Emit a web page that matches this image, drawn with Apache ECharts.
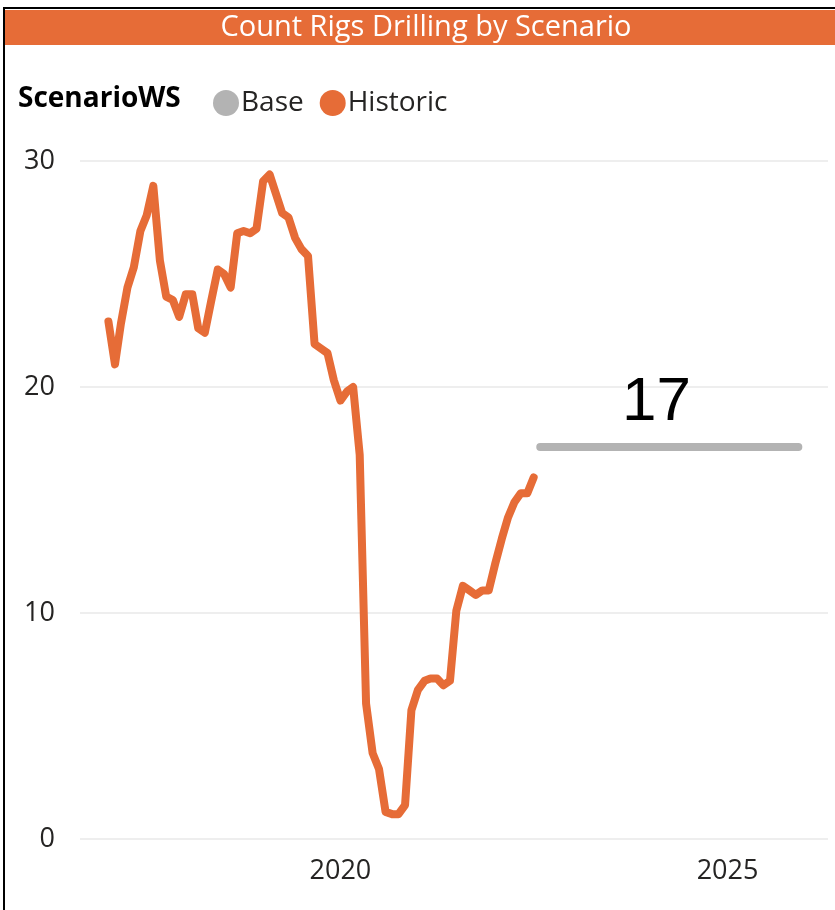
<!DOCTYPE html>
<html>
<head>
<meta charset="utf-8">
<script src="https://cdn.jsdelivr.net/npm/echarts@6/dist/echarts.min.js"></script>
<style>
html,body{margin:0;padding:0;background:#fff;}
#c{width:835px;height:910px;}
</style>
</head>
<body>
<div id="c"></div>
<script>
// Historic monthly rig counts, 2017-01 .. 2022-07
const historicStart = [2017, 1];
const historicValues = [
  22.9, 21.0, 22.8, 24.4, 25.3, 26.9, 27.6, 28.9, 25.6, 24.0, 23.85, 23.1,
  24.1, 24.1, 22.6, 22.4, 23.8, 25.2, 25.0, 24.4, 26.8, 26.9, 26.8, 27.0,
  29.1, 29.4, 28.6, 27.7, 27.5, 26.6, 26.1, 25.8, 21.9, 21.7, 21.5, 20.3,
  19.4, 19.8, 20.0, 17.0, 6.0, 3.8, 3.1, 1.2, 1.1, 1.1, 1.5, 5.7,
  6.6, 7.0, 7.1, 7.1, 6.8, 7.0, 10.1, 11.2, 11.0, 10.8, 11.0, 11.0,
  12.2, 13.3, 14.2, 14.9, 15.3, 15.3, 16.0
];
// Base scenario, 2022-08 .. 2025-12
const baseStart = [2022, 8];
const baseMonths = 41;
const baseValue = 17.35;
const baseLabelMonth = '2024-02';
const baseLabelText = '17';
const yTicks = [0, 10, 20, 30];
const xTickYears = [2020, 2025];

function monthSeq(start, n) {
  const out = [];
  let y = start[0], m = start[1];
  for (let i = 0; i < n; i++) {
    out.push(y + '-' + String(m).padStart(2, '0'));
    m++; if (m > 12) { m = 1; y++; }
  }
  return out;
}
function ts(s) { const p = s.split('-'); return Date.UTC(+p[0], +p[1] - 1, 1); }
const historicDates = monthSeq(historicStart, historicValues.length);
const baseDates = monthSeq(baseStart, baseMonths);
const baseValues = baseDates.map(() => baseValue);

const ORANGE = '#E66C37';
const GRAY = '#B3B3B3';
const FONT = '"Open Sans", "Noto Sans", sans-serif';

const chart = echarts.init(document.getElementById('c'));
chart.setOption({
  animation: false,
  graphic: [
    { type: 'rect', shape: { x: 4, y: 8, width: 840, height: 910 }, style: { fill: 'none', stroke: '#000', lineWidth: 2 }, silent: true, z: 100 },
    { type: 'rect', shape: { x: 5, y: 10, width: 830, height: 35 }, style: { fill: ORANGE }, z: 1 },
    { type: 'text', x: 426, y: 28, style: { text: 'Count Rigs Drilling by Scenario', fill: '#fff', font: '29px ' + FONT, textAlign: 'center', textVerticalAlign: 'middle' }, z: 2 },
    { type: 'text', x: 18, y: 99, style: { text: 'ScenarioWS', fill: '#000', font: 'bold 28px ' + FONT, textAlign: 'left', textVerticalAlign: 'middle' }, z: 2 }
  ],
  legend: {
    left: 208, top: 84,
    icon: 'circle', itemWidth: 26, itemHeight: 26, itemGap: 16,
    textStyle: { fontSize: 28, color: '#252423', fontFamily: FONT, padding: [0, 0, 0, -3] },
    data: ['Base', 'Historic']
  },
  grid: { left: 80, right: 7, top: 161, bottom: 71, containLabel: false },
  xAxis: {
    type: 'value',
    min: Date.UTC(2016, 7, 20),
    max: Date.UTC(2026, 3, 20),
    axisLine: { show: false },
    axisTick: { show: false },
    splitLine: { show: false },
    axisLabel: {
      customValues: xTickYears.map(y => Date.UTC(y, 0, 1)),
      formatter: v => String(new Date(v).getUTCFullYear()),
      fontSize: 27, color: '#252423', fontFamily: FONT, margin: 19
    }
  },
  yAxis: {
    type: 'value', min: 0, max: 30, interval: 10,
    axisLine: { show: false }, axisTick: { show: false },
    splitLine: { lineStyle: { color: '#EEEEEE', width: 2 } },
    axisLabel: { fontSize: 27, color: '#252423', fontFamily: FONT, margin: 25 }
  },
  series: [
    {
      name: 'Base', type: 'line', showSymbol: true, symbol: 'circle', symbolSize: 0,
      color: GRAY,
      lineStyle: { width: 8, color: GRAY, cap: 'round' },
      label: { show: false },
      data: baseDates.map((d, i) => {
        const item = { value: [ts(d), baseValues[i]] };
        if (d === baseLabelMonth) {
          item.label = { show: true, position: 'top', distance: 13, formatter: baseLabelText,
            fontSize: 62, color: '#000', fontFamily: 'Arial, "Liberation Sans", sans-serif' };
        }
        return item;
      })
    },
    {
      name: 'Historic', type: 'line', showSymbol: false, symbol: 'none',
      color: ORANGE,
      lineStyle: { width: 8, color: ORANGE, cap: 'round', join: 'round' },
      data: historicDates.map((d, i) => [ts(d), historicValues[i]])
    }
  ]
});
</script>
</body>
</html>
